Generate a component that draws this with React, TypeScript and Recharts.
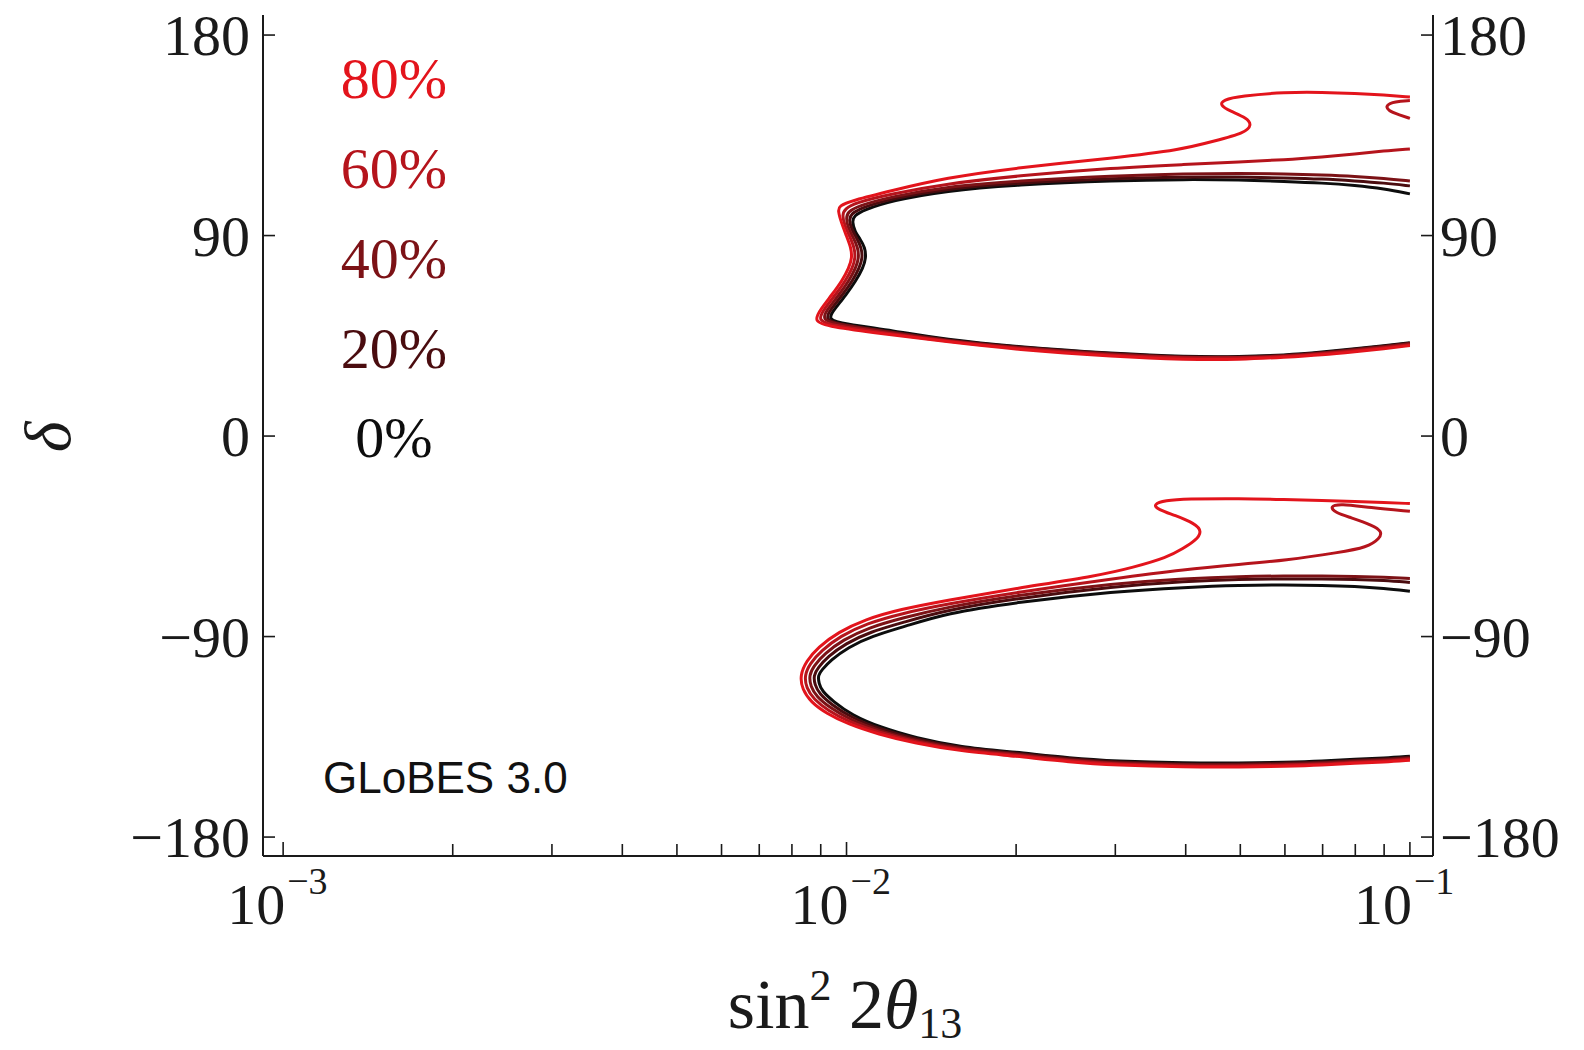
import { ComposedChart, Line, XAxis, YAxis } from 'recharts'

// sin^2 2θ13 vs δ sensitivity contours, five levels (0% .. 80%)
const X_MIN = 0.000921
const X_MAX = 0.1099
const Y_MIN = -188.5
const Y_MAX = 189

const X_TICKS = [
  0.001, 0.002, 0.003, 0.004, 0.005, 0.006, 0.007, 0.008, 0.009,
  0.01, 0.02, 0.03, 0.04, 0.05, 0.06, 0.07, 0.08, 0.09, 0.1,
]
const X_MAJOR = [0.001, 0.01, 0.1]
const X_EXP = ['−3', '−2', '−1']
const Y_TICKS = [-180, -90, 0, 90, 180]

const LEVELS = ['0%', '20%', '40%', '60%', '80%']
const COLORS = ['#0d0d0d', '#4a0c0f', '#7c1216', '#b5141c', '#e3141c']

// [sin^2 2θ13, δ] along each contour, upper island (δ > 0)
const upper0 = [
  [0.1, 108.7], [0.09, 111.0], [0.08, 112.5], [0.07, 113.6], [0.06, 114.3], [0.05, 115.0], [0.04, 115.2],
  [0.03, 114.8], [0.02, 112.8], [0.015, 110.1], [0.012, 105.6],
  [0.01074, 101.5], [0.01031, 98.9], [0.01023, 96.2], [0.01035, 91.7], [0.01057, 88.5], [0.01079, 84.5],
  [0.01083, 80.0], [0.0107, 75.5], [0.01039, 69.7], [0.00998, 63.4], [0.00954, 57.2],
  [0.00923, 52.2], [0.0099, 50.4], [0.01204, 47.3],
  [0.015, 43.3], [0.02, 40.1], [0.03, 37.0], [0.04, 35.6], [0.05, 35.6], [0.06, 36.3], [0.07, 37.7],
  [0.08, 39.2], [0.09, 40.6], [0.1, 41.9],
]
const upper20 = [
  [0.1, 112.3], [0.09, 113.6], [0.08, 114.5], [0.07, 115.4], [0.06, 115.9], [0.05, 116.3], [0.04, 116.3],
  [0.03, 115.7], [0.02, 113.6], [0.015, 111.0], [0.012, 106.5],
  [0.01061, 102.4], [0.01019, 99.7], [0.0101, 97.1], [0.01021, 92.8], [0.01042, 89.0], [0.01063, 84.5],
  [0.01068, 80.0], [0.01054, 75.5], [0.01025, 69.7], [0.00984, 63.4], [0.0094, 57.2],
  [0.00912, 52.2], [0.00978, 50.0], [0.01194, 46.8],
  [0.015, 43.0], [0.02, 39.9], [0.03, 36.8], [0.04, 35.4], [0.05, 35.4], [0.06, 36.1], [0.07, 37.4],
  [0.08, 39.0], [0.09, 40.3], [0.1, 41.7],
]
const upper40 = [
  [0.1, 114.5], [0.09, 115.7], [0.08, 116.6], [0.07, 117.2], [0.06, 117.7], [0.05, 117.9], [0.04, 117.7],
  [0.03, 116.8], [0.02, 114.5], [0.015, 111.9], [0.012, 107.4],
  [0.01048, 103.3], [0.01006, 100.6], [0.00998, 98.0], [0.01006, 93.5], [0.01027, 89.4], [0.01048, 84.5],
  [0.01052, 80.0], [0.01039, 75.5], [0.0101, 69.7], [0.0097, 63.4], [0.00927, 57.2],
  [0.00901, 52.2], [0.00966, 50.0], [0.01185, 46.8],
  [0.015, 42.8], [0.02, 39.7], [0.03, 36.5], [0.04, 35.2], [0.05, 35.2], [0.06, 35.9], [0.07, 37.2],
  [0.08, 38.8], [0.09, 40.1], [0.1, 41.5],
]
const upper60 = [
  [0.1, 128.9], [0.09, 128.0], [0.08, 126.6], [0.07, 125.3], [0.06, 124.0], [0.05, 123.1], [0.04, 121.9],
  [0.03, 120.4], [0.02, 116.8], [0.015, 113.2], [0.012, 108.7],
  [0.01035, 104.7], [0.00994, 102.0], [0.00982, 99.3], [0.00992, 94.8], [0.01012, 89.9], [0.01033, 84.5],
  [0.01037, 80.0], [0.01025, 75.5], [0.00996, 69.7], [0.00956, 63.4], [0.00914, 57.2],
  [0.00886, 51.8], [0.0095, 49.5], [0.01166, 46.4],
  [0.015, 42.6], [0.02, 39.2], [0.03, 36.1], [0.04, 35.0], [0.05, 35.0], [0.06, 35.6], [0.07, 37.0],
  [0.08, 38.3], [0.09, 39.7], [0.1, 41.0],
]
const upper60Hook = [
  [0.1, 150.6], [0.094, 150.2], [0.0905, 148.5], [0.0915, 146.0], [0.0955, 144.3], [0.1, 142.6],
]
const upper80 = [
  [0.1, 152.2], [0.09, 153.1], [0.08, 153.8], [0.07, 154.3], [0.06, 154.4], [0.05, 152.6],
  [0.0466, 150.9], [0.046, 148.6], [0.0479, 145.9], [0.0514, 142.8], [0.0524, 139.6], [0.051, 136.1],
  [0.0451, 132.5], [0.0391, 128.4],
  [0.03, 124.9], [0.02, 120.4], [0.015, 115.9], [0.012, 110.1],
  [0.0102, 105.6], [0.0097, 103.3], [0.00966, 101.1], [0.00978, 96.2], [0.00998, 90.3], [0.01019, 84.5],
  [0.01023, 80.0], [0.0101, 75.5], [0.00982, 69.7], [0.00942, 63.4], [0.00901, 57.2],
  [0.00872, 51.3], [0.00935, 49.1], [0.0115, 46.0],
  [0.015, 42.4], [0.02, 38.8], [0.03, 35.6], [0.04, 34.3], [0.05, 34.3], [0.06, 35.4], [0.07, 36.5],
  [0.08, 37.9], [0.09, 39.2], [0.1, 40.6],
]

// lower island (δ < 0)
const lower0 = [
  [0.1, -69.7], [0.09, -68.4], [0.08, -67.5], [0.07, -67.0], [0.06, -66.8], [0.05, -67.0], [0.04, -67.9],
  [0.03, -69.7], [0.02, -74.6], [0.015, -79.6],
  [0.01269, -85.5], [0.01109, -89.8], [0.01005, -94.9], [0.00938, -100.6], [0.00903, -105.1], [0.0089, -107.4],
  [0.00893, -111.0], [0.00905, -114.5], [0.00946, -119.0], [0.01021, -125.2], [0.01147, -130.7],
  [0.01328, -135.5], [0.0159, -139.6],
  [0.02, -141.9], [0.025, -144.6], [0.03, -145.9], [0.04, -146.8], [0.05, -146.8],
  [0.06, -146.4], [0.07, -145.9], [0.08, -145.0], [0.09, -144.6], [0.1, -143.7],
]
const lower20 = [
  [0.1, -65.7], [0.09, -64.8], [0.08, -64.3], [0.07, -64.1], [0.06, -64.1], [0.05, -64.3], [0.04, -65.2],
  [0.03, -67.5], [0.02, -72.9], [0.015, -78.2],
  [0.01263, -83.6], [0.01101, -87.9], [0.00995, -93.2], [0.00926, -99.1], [0.00889, -104.1], [0.00874, -107.4],
  [0.00878, -111.6], [0.00895, -115.7], [0.00939, -120.4], [0.01017, -126.2], [0.01144, -131.5],
  [0.01327, -136.1], [0.0159, -140.1],
  [0.02, -142.3], [0.025, -145.0], [0.03, -146.4], [0.04, -147.3], [0.05, -147.3],
  [0.06, -146.8], [0.07, -146.4], [0.08, -145.5], [0.09, -145.0], [0.1, -144.1],
]
const lower40 = [
  [0.1, -63.9], [0.09, -63.4], [0.08, -63.0], [0.07, -62.8], [0.06, -62.8], [0.05, -63.0], [0.04, -63.9],
  [0.03, -66.1], [0.02, -71.5], [0.015, -76.9],
  [0.01257, -81.6], [0.01094, -86.0], [0.00985, -91.5], [0.00914, -97.7], [0.00875, -103.1], [0.00858, -107.4],
  [0.00863, -112.3], [0.00885, -117.0], [0.00932, -121.7], [0.01014, -127.3], [0.01142, -132.3],
  [0.01326, -136.7], [0.0159, -140.5],
  [0.02, -142.8], [0.025, -145.5], [0.03, -146.8], [0.04, -147.7], [0.05, -147.7],
  [0.06, -147.3], [0.07, -146.8], [0.08, -145.9], [0.09, -145.5], [0.1, -144.6],
]
const lower60 = [
  [0.1, -33.8], [0.0849, -32.1], [0.0751, -30.3], [0.0721, -31.6], [0.0736, -34.3], [0.0783, -36.5],
  [0.086, -40.1], [0.0892, -42.8], [0.0885, -45.9], [0.0839, -50.0], [0.0751, -52.2],
  [0.06, -55.8], [0.05, -57.6], [0.04, -59.8], [0.03, -63.9], [0.02, -70.2], [0.015, -75.5],
  [0.0125, -79.7], [0.01086, -84.1], [0.00975, -89.8], [0.00902, -96.3], [0.00861, -102.1], [0.00842, -107.4],
  [0.00848, -113.0], [0.00875, -118.2], [0.00926, -123.1], [0.0101, -128.3], [0.0114, -133.0],
  [0.01324, -137.3], [0.0159, -141.0],
  [0.02, -143.2], [0.025, -145.9], [0.03, -147.3], [0.04, -148.2], [0.05, -148.2],
  [0.06, -147.7], [0.07, -147.3], [0.08, -146.4], [0.09, -145.9], [0.1, -145.0],
]
const lower80 = [
  [0.1, -30.3], [0.09, -29.8], [0.08, -29.4], [0.07, -28.9], [0.06, -28.5], [0.05, -28.0], [0.04, -28.2],
  [0.0368, -28.9], [0.035, -30.7], [0.0357, -32.9], [0.0383, -35.6], [0.0415, -39.2], [0.0428, -42.8],
  [0.0417, -46.8], [0.0396, -50.4], [0.0371, -54.5], [0.0322, -59.0], [0.0282, -62.5],
  [0.02, -68.4], [0.015, -73.8],
  [0.01244, -77.8], [0.01079, -82.3], [0.00966, -88.1], [0.0089, -94.8], [0.00848, -101.1], [0.00827, -107.4],
  [0.00834, -113.6], [0.00865, -119.5], [0.0092, -124.4], [0.01006, -129.3], [0.01137, -133.8],
  [0.01323, -137.9], [0.0159, -141.4],
  [0.02, -143.7], [0.025, -146.4], [0.03, -147.7], [0.04, -148.6], [0.05, -148.6],
  [0.06, -148.2], [0.07, -147.7], [0.08, -146.8], [0.09, -146.4], [0.1, -145.5],
]

// pieces per level, drawn as one line with breaks between them
const PIECES = [
  [upper0, lower0],
  [upper20, lower20],
  [upper40, lower40],
  [upper60, upper60Hook, lower60],
  [upper80, lower80],
]

const GAP = { x: 0.1, y: null }
const toSeries = (pieces: number[][][]) =>
  pieces.flatMap((p, i) => [...(i > 0 ? [GAP] : []), ...p.map(([x, y]) => ({ x, y }))])

const SERIF = '"Liberation Serif", "DejaVu Serif", serif'
const INK = '#1a1a1a'
const fmtY = (v: number) => (v < 0 ? `−${-v}` : `${v}`)

function XTick({ x, y, payload }: any) {
  const i = X_MAJOR.findIndex((m) => Math.abs(m - payload.value) / m < 1e-6)
  return (
    <g>
      <line x1={x} x2={x} y1={y} y2={y - (i >= 0 ? 14 : 12)} stroke={INK} strokeWidth={1.6} />
      {i >= 0 && (
        <g fontFamily={SERIF} fill={INK}>
          <text x={x + 2} y={y + 68} textAnchor="end" fontSize={58}>10</text>
          <text x={x + 4} y={y + 38} textAnchor="start" fontSize={38}>{X_EXP[i]}</text>
        </g>
      )}
    </g>
  )
}

function YTickLeft({ x, y, payload }: any) {
  return (
    <g>
      <line x1={x} x2={x + 12} y1={y} y2={y} stroke={INK} strokeWidth={1.6} />
      <text x={x - 13} y={y} dy="0.35em" textAnchor="end" fontFamily={SERIF} fontSize={58} fill={INK}>
        {fmtY(payload.value)}
      </text>
    </g>
  )
}

function YTickRight({ x, y, payload }: any) {
  return (
    <g>
      <line x1={x} x2={x - 12} y1={y} y2={y} stroke={INK} strokeWidth={1.6} />
      <text x={x + 7} y={y} dy="0.35em" textAnchor="start" fontFamily={SERIF} fontSize={58} fill={INK}>
        {fmtY(payload.value)}
      </text>
    </g>
  )
}

const LABEL_BASELINES = [457, 368, 278, 188, 98]

export default function App() {
  const frame = { stroke: INK, strokeWidth: 2 }
  return (
    <div style={{ position: 'absolute', left: 0, top: 0, width: 1584, height: 1050, background: '#fff' }}>
      <ComposedChart width={1584} height={1050} margin={{ top: 15, right: 31, bottom: 94, left: 163 }}>
        <XAxis
          xAxisId="b"
          type="number"
          dataKey="x"
          scale="log"
          domain={[X_MIN, X_MAX]}
          allowDataOverflow
          ticks={X_TICKS}
          interval={0}
          tick={<XTick />}
          tickLine={false}
          tickSize={0}
          tickMargin={0}
          axisLine={frame}
          height={100}
        />
        <XAxis
          xAxisId="t"
          orientation="top"
          type="number"
          scale="log"
          domain={[X_MIN, X_MAX]}
          allowDataOverflow
          tick={false}
          tickLine={false}
          axisLine={frame}
          height={0}
        />
        <YAxis
          yAxisId="l"
          type="number"
          domain={[Y_MIN, Y_MAX]}
          allowDataOverflow
          ticks={Y_TICKS}
          interval={0}
          tick={<YTickLeft />}
          tickLine={false}
          tickSize={0}
          tickMargin={0}
          axisLine={frame}
          width={100}
        />
        <YAxis
          yAxisId="r"
          orientation="right"
          type="number"
          domain={[Y_MIN, Y_MAX]}
          allowDataOverflow
          ticks={Y_TICKS}
          interval={0}
          tick={<YTickRight />}
          tickLine={false}
          tickSize={0}
          tickMargin={0}
          axisLine={frame}
          width={120}
        />
        {PIECES.map((pieces, i) => (
          <Line
            key={LEVELS[i]}
            xAxisId="b"
            yAxisId="l"
            data={toSeries(pieces)}
            dataKey="y"
            type="basis"
            stroke={COLORS[i]}
            strokeWidth={3}
            dot={false}
            activeDot={false}
            connectNulls={false}
            isAnimationActive={false}
          />
        ))}
        <g fontFamily={SERIF}>
          {LEVELS.map((lv, i) => (
            <text key={lv} x={394} y={LABEL_BASELINES[i]} textAnchor="middle" fontSize={58} fill={COLORS[i]}>
              {lv}
            </text>
          ))}
          <text transform="translate(47,437) rotate(-90)" textAnchor="middle" dy="0.35em" fontSize={66}
            fontStyle="italic" fill={INK}>δ</text>
          <text x={845} y={1028} textAnchor="middle" fontSize={70} fill={INK}>
            sin<tspan dy={-28} fontSize={44}>2</tspan>
            <tspan dy={28}> 2</tspan>
            <tspan fontStyle="italic">θ</tspan>
            <tspan dy={10} fontSize={44}>13</tspan>
          </text>
        </g>
        <text x={323} y={793} fontFamily='"Liberation Sans", Arial, sans-serif' fontSize={44} fill="#111">
          GLoBES 3.0
        </text>
      </ComposedChart>
    </div>
  )
}
